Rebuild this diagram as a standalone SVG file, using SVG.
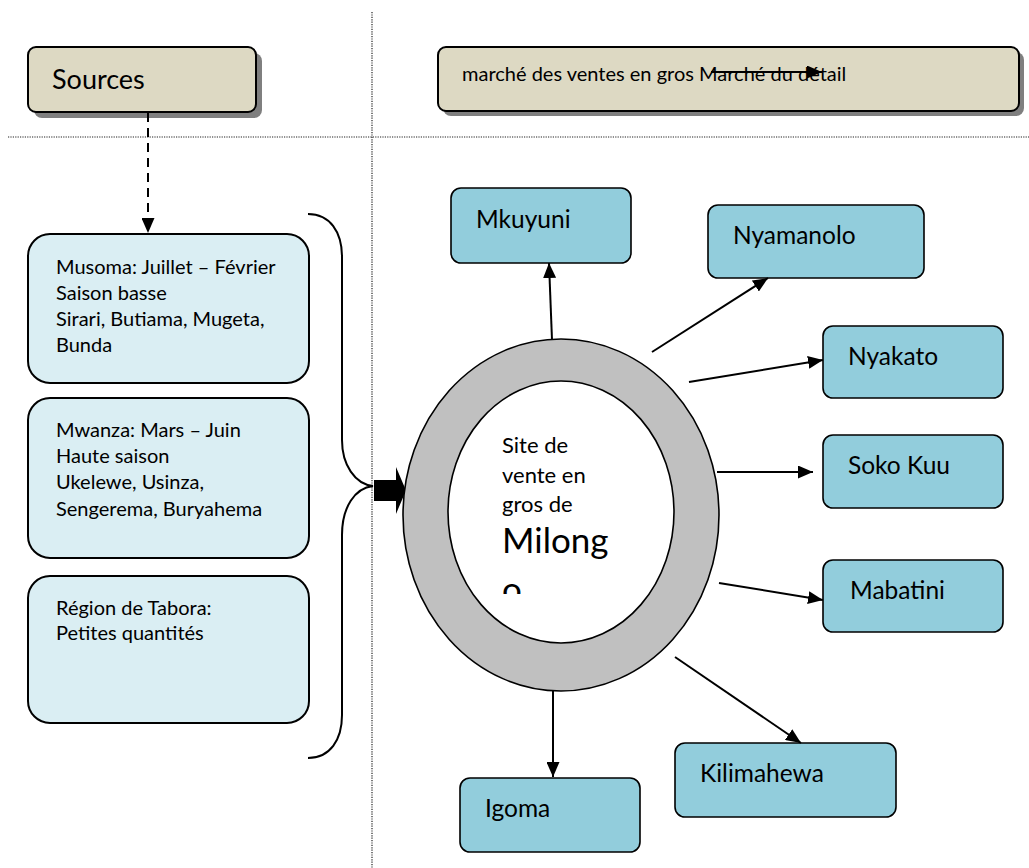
<svg xmlns="http://www.w3.org/2000/svg" width="1029" height="868" viewBox="0 0 1029 868">
<style>
  text { font-family: Lato, "Liberation Sans", sans-serif; fill: #000; }
  .t20 { font-size: 20px; }
  .lbl { font-size: 24.5px; }
  .t22 { font-size: 22px; }
  .dot { stroke: #222; stroke-width: 1.2; stroke-dasharray: 1.2 1.2; fill: none; }
  .beige { fill: #ddd9c3; stroke: #000; stroke-width: 2; }
  .shadow { fill: #7f7f7f; }
  .src { fill: #daeef3; stroke: #000; stroke-width: 2; }
  .dest { fill: #92cddc; stroke: #000; stroke-width: 1.6; }
  .conn { stroke: #000; stroke-width: 2; fill: none; }
</style>
<defs>
  <marker id="ah" markerUnits="userSpaceOnUse" markerWidth="15" markerHeight="13" refX="15" refY="6.5" orient="auto">
    <path d="M0,0 L15,6.5 L0,13 z" fill="#000"/>
  </marker>
  <clipPath id="clipMilongo">
    <rect x="440" y="370" width="250" height="224"/>
  </clipPath>
</defs>
<rect width="1029" height="868" fill="#fff"/>

<g id="dividers">
  <line class="dot" x1="372" y1="12" x2="372" y2="868"/>
  <line class="dot" x1="8" y1="137" x2="1029" y2="137"/>
</g>

<g id="sources">
  <rect class="shadow" x="34" y="53" width="228" height="65" rx="8"/>
  <rect class="beige" x="28" y="47" width="228" height="65" rx="8"/>
  <text x="52" y="89" style="font-size:27px">Sources</text>
</g>

<g id="legend">
  <rect class="shadow" x="443" y="52" width="581" height="64" rx="8"/>
  <rect class="beige" x="438" y="47" width="581" height="64" rx="8"/>
  <text class="t20" x="462" y="81">marché des ventes en gros Marché du détail</text>
  <line class="conn" x1="711" y1="72" x2="822" y2="72" marker-end="url(#ah)"/>
</g>

<g id="musoma">
  <rect class="src" x="28" y="234" width="281" height="149" rx="22"/>
  <text class="t20" x="56" y="274">Musoma: Juillet – Février</text>
  <text class="t20" x="56" y="300">Saison basse</text>
  <text class="t20" x="56" y="326">Sirari, Butiama, Mugeta,</text>
  <text class="t20" x="56" y="352">Bunda</text>
</g>

<g id="mwanza">
  <rect class="src" x="28" y="398" width="281" height="160" rx="22"/>
  <text class="t20" x="56" y="437">Mwanza: Mars – Juin</text>
  <text class="t20" x="56" y="463">Haute saison</text>
  <text class="t20" x="56" y="489">Ukelewe, Usinza,</text>
  <text class="t20" x="56" y="516">Sengerema, Buryahema</text>
</g>

<g id="tabora">
  <rect class="src" x="28" y="576" width="281" height="147" rx="22"/>
  <text class="t20" x="56" y="615">Région de Tabora:</text>
  <text class="t20" x="56" y="640">Petites quantités</text>
</g>

<g id="brace">
  <path class="conn" d="M308,214 C330,214 342,232 342,257 L342,440 C342,465 355,484 373,486 C355,488 342,507 342,535 L342,715 C342,740 330,758 308,758"/>
  <path d="M374,480 L396,480 L396,467 L406,490.5 L396,514 L396,501 L374,501 z" fill="#000"/>
</g>

<g id="milongo">
  <ellipse cx="561" cy="515" rx="158" ry="176" fill="#c0c0c0" stroke="#000" stroke-width="1.6"/>
  <ellipse cx="561" cy="512" rx="113" ry="131" fill="#fff" stroke="#000" stroke-width="1.6"/>
  <text class="t22" x="502" y="453">Site de</text>
  <text class="t22" x="502" y="483">vente en</text>
  <text class="t22" x="502" y="512">gros de</text>
  <g clip-path="url(#clipMilongo)">
    <text x="502" y="553" style="font-size:35px">Milong</text>
    <text x="502" y="602" style="font-size:35px">o</text>
  </g>
</g>

<g id="mkuyuni">
  <rect class="dest" x="451" y="188" width="180" height="75" rx="10"/>
  <text class="lbl" x="476" y="228">Mkuyuni</text>
</g>
<g id="nyamanolo">
  <rect class="dest" x="708" y="205" width="216" height="73" rx="10"/>
  <text class="lbl" x="733" y="244">Nyamanolo</text>
</g>
<g id="nyakato">
  <rect class="dest" x="823" y="326" width="180" height="72" rx="10"/>
  <text class="lbl" x="848" y="365">Nyakato</text>
</g>
<g id="sokokuu">
  <rect class="dest" x="823" y="435" width="180" height="73" rx="10"/>
  <text class="lbl" x="848" y="474">Soko Kuu</text>
</g>
<g id="mabatini">
  <rect class="dest" x="823" y="560" width="180" height="72" rx="10"/>
  <text class="lbl" x="850" y="599">Mabatini</text>
</g>
<g id="kilimahewa">
  <rect class="dest" x="675" y="743" width="221" height="74" rx="10"/>
  <text class="lbl" x="700" y="782">Kilimahewa</text>
</g>
<g id="igoma">
  <rect class="dest" x="460" y="778" width="180" height="74" rx="10"/>
  <text class="lbl" x="485" y="817">Igoma</text>
</g>

<g id="connectors">
  <line class="conn" x1="148" y1="113" x2="148" y2="233" stroke-width="2.6" stroke-dasharray="9 6" marker-end="url(#ah)"/>
  <line class="conn" x1="552" y1="340" x2="549" y2="263" marker-end="url(#ah)"/>
  <line class="conn" x1="652" y1="352" x2="768" y2="278" marker-end="url(#ah)"/>
  <line class="conn" x1="689" y1="382" x2="823" y2="360" marker-end="url(#ah)"/>
  <line class="conn" x1="717" y1="472" x2="813" y2="472" marker-end="url(#ah)"/>
  <line class="conn" x1="719" y1="583" x2="823" y2="600" marker-end="url(#ah)"/>
  <line class="conn" x1="675" y1="657" x2="801" y2="743" marker-end="url(#ah)"/>
  <line class="conn" x1="553" y1="691" x2="553" y2="777" marker-end="url(#ah)"/>
</g>
</svg>
